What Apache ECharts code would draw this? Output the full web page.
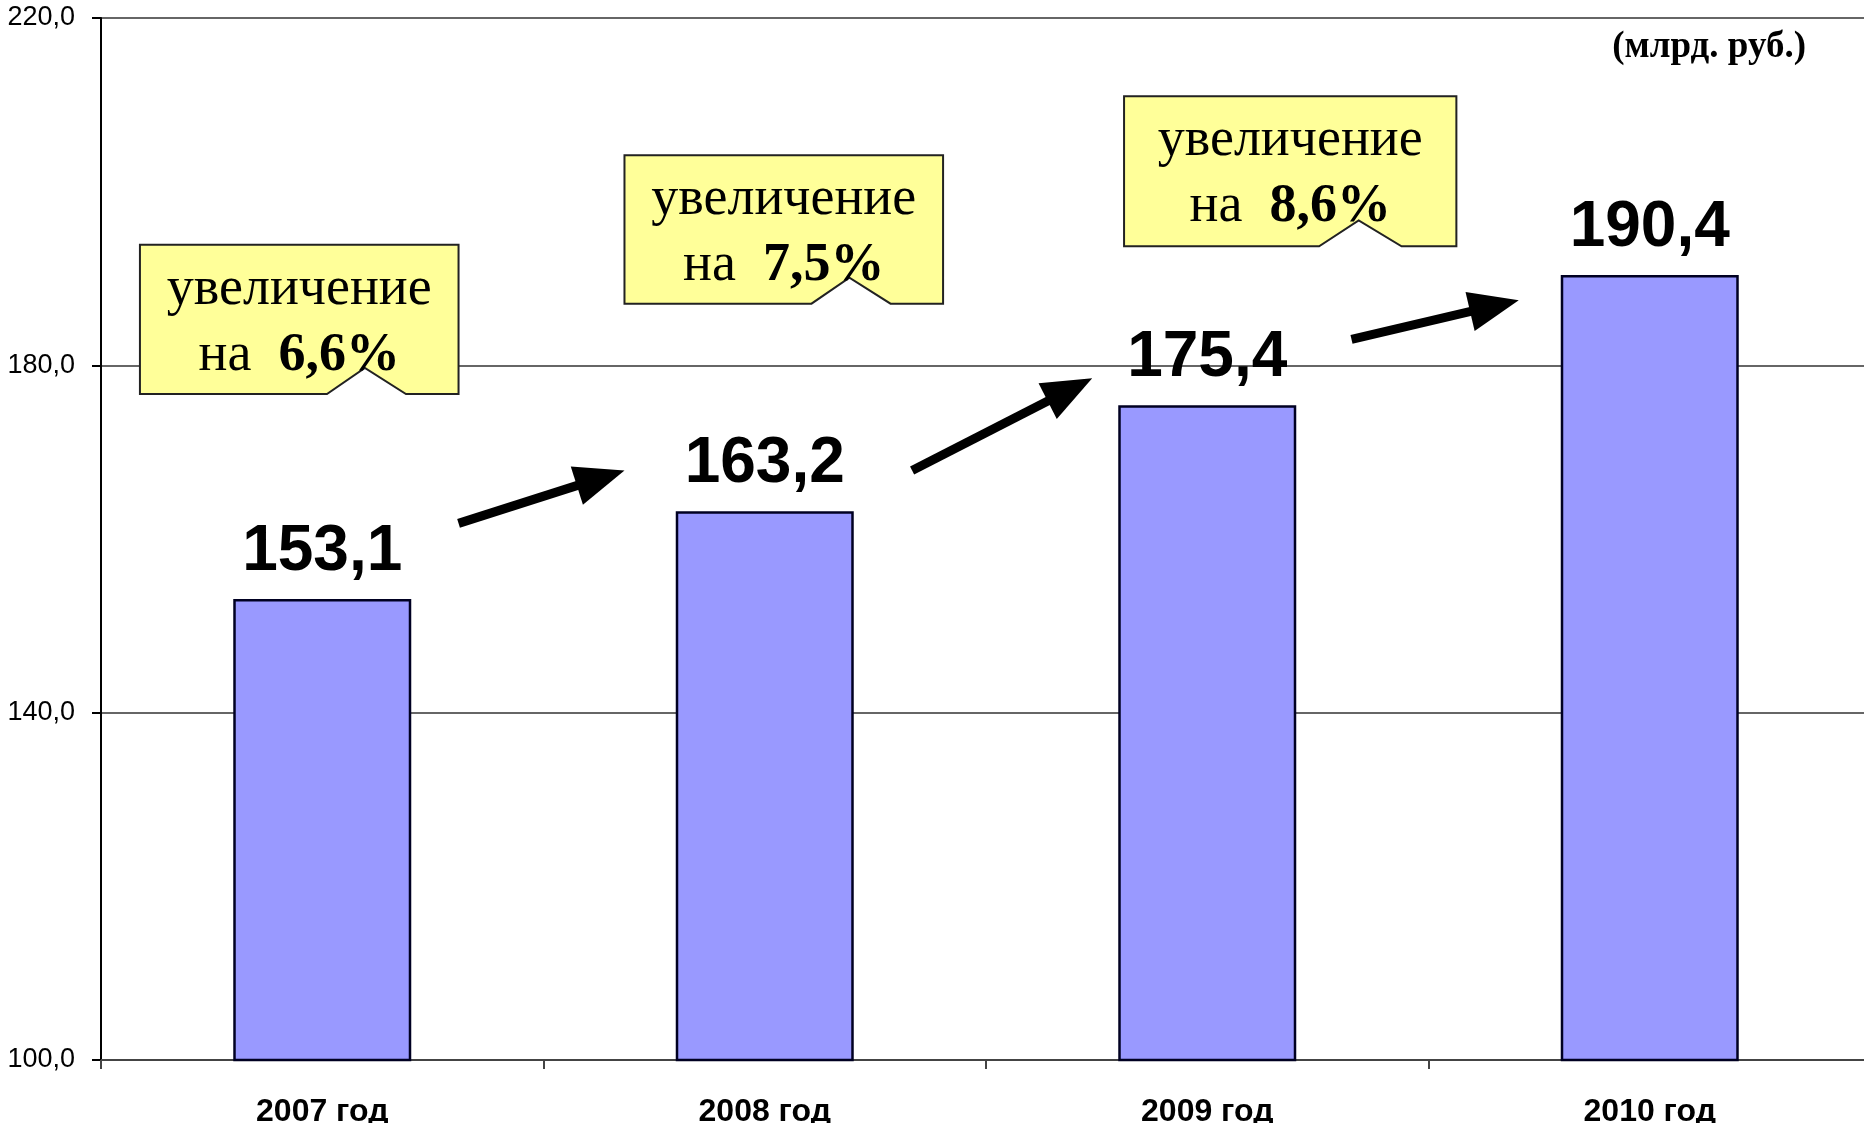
<!DOCTYPE html>
<html>
<head>
<meta charset="utf-8">
<script src="https://cdn.jsdelivr.net/npm/echarts@6/dist/echarts.min.js"></script>
<style>
    html, body { margin: 0; padding: 0; background: #fff; }
    #chart { width: 1864px; height: 1123px; }
</style>
</head>
<body>
<div id="chart"></div>
<script>
// данные
const years = ['2007 год', '2008 год', '2009 год', '2010 год'];
const revenue = [153.1, 163.2, 175.4, 190.4];
const growth = ['6,6%', '7,5%', '8,6%'];
const yMin = 100, yMax = 220, yStep = 40;
const unitText = '(млрд. руб.)';

// положение выносок и стрелок (в единицах осей: индекс категории, значение)
const boxes = [
    [-0.412, 0.308, 193.9, 176.7],
    [0.683, 1.403, 204.2, 187.1],
    [1.812, 2.563, 211.0, 193.7]
];
const arrows = [
    [[0.308, 161.8], [0.683, 167.9]],
    [[1.333, 167.9], [1.740, 178.5]],
    [[2.326, 183.0], [2.704, 187.5]]
];

const fmt = v => v.toFixed(1).replace('.', ',');
const sans = '"Liberation Sans", Arial, sans-serif';
const serif = '"Liberation Serif", "Times New Roman", serif';

let myChart = echarts.init(document.getElementById('chart'));

let option = {
    animation: false,
    backgroundColor: '#fff',
    grid: { left: 101, right: -7, top: 18, bottom: 63, outerBoundsMode: 'none', containLabel: false },
    xAxis: {
        type: 'category',
        data: years,
        axisLine: { lineStyle: { color: '#444', width: 2 } },
        axisTick: { show: true, length: 9, lineStyle: { color: '#444', width: 2 } },
        axisLabel: {
            margin: 36,
            color: '#000',
            fontFamily: sans,
            fontWeight: 'bold',
            fontSize: 32
        }
    },
    yAxis: {
        type: 'value',
        min: yMin,
        max: yMax,
        interval: yStep,
        axisLine: { show: true, lineStyle: { color: '#000', width: 2 } },
        axisTick: { show: true, length: 9, lineStyle: { color: '#000', width: 2 } },
        axisLabel: {
            margin: 26,
            color: '#000',
            fontFamily: sans,
            fontSize: 27,
            formatter: fmt
        },
        splitLine: { lineStyle: { color: '#333', width: 1.5 } }
    },
    series: [{
        type: 'bar',
        data: revenue,
        barWidth: 178,
        itemStyle: { color: '#9999ff', borderColor: '#000022', borderWidth: 2.5 },
        label: {
            show: true,
            position: 'top',
            distance: 15,
            color: '#000',
            fontFamily: sans,
            fontWeight: 'bold',
            fontSize: 64,
            formatter: p => fmt(p.value)
        }
    }]
};
myChart.setOption(option);

function drawNotes() {
    const c0 = myChart.convertToPixel({ xAxisIndex: 0 }, 0);
    const c1 = myChart.convertToPixel({ xAxisIndex: 0 }, 1);
    const band = c1 - c0;
    const px = p => c0 + p * band;
    const py = v => myChart.convertToPixel({ yAxisIndex: 0 }, v);

    let elements = [];

    boxes.forEach((b, i) => {
        const L = px(b[0]), R = px(b[1]), T = py(b[2]), B = py(b[3]);
        const w = R - L;
        const n1 = L + w * 0.587, n2 = L + w * 0.706, n3 = L + w * 0.835;
        elements.push({
            type: 'polygon',
            shape: { points: [[L, T], [R, T], [R, B], [n3, B], [n2, B - 26], [n1, B], [L, B]] },
            style: { fill: '#ffff99', stroke: '#222', lineWidth: 2 },
            z: 10
        });
        const cx = (L + R) / 2;
        elements.push({
            type: 'text',
            z: 11,
            style: {
                x: cx, y: T + 45,
                text: 'увеличение',
                align: 'center', verticalAlign: 'middle',
                font: '54px ' + serif,
                fill: '#000'
            }
        });
        elements.push({
            type: 'text',
            z: 11,
            style: {
                x: cx, y: T + 111,
                text: '{r|на}  {b|' + growth[i] + '}',
                align: 'center', verticalAlign: 'middle',
                font: '54px ' + serif,
                fill: '#000',
                rich: {
                    r: { font: '54px ' + serif, fill: '#000' },
                    b: { font: 'bold 54px ' + serif, fill: '#000' }
                }
            }
        });
    });

    arrows.forEach(a => {
        const x1 = px(a[0][0]), y1 = py(a[0][1]);
        const x2 = px(a[1][0]), y2 = py(a[1][1]);
        const len = Math.hypot(x2 - x1, y2 - y1);
        const ux = (x2 - x1) / len, uy = (y2 - y1) / len;
        const head = 50, half = 20;
        const bx = x2 - ux * head, by = y2 - uy * head;
        elements.push({
            type: 'line',
            z: 12,
            shape: { x1: x1, y1: y1, x2: bx + ux * 4, y2: by + uy * 4 },
            style: { stroke: '#000', lineWidth: 9 }
        });
        elements.push({
            type: 'polygon',
            z: 12,
            shape: { points: [[x2, y2], [bx - uy * half, by + ux * half], [bx + uy * half, by - ux * half]] },
            style: { fill: '#000' }
        });
    });

    elements.push({
        type: 'text',
        z: 12,
        style: {
            x: 1806, y: 47,
            text: unitText,
            align: 'right', verticalAlign: 'middle',
            font: 'bold 37px ' + serif,
            fill: '#000'
        }
    });

    myChart.setOption({ graphic: { elements: elements } });
}
drawNotes();
</script>
</body>
</html>
